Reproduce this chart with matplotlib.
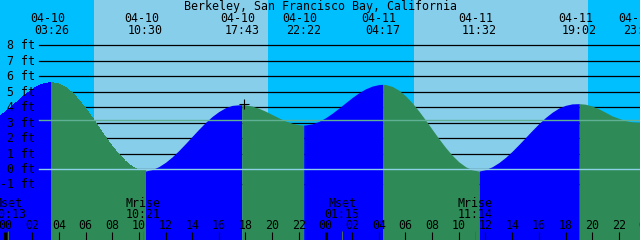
import matplotlib
matplotlib.use("Agg")
import matplotlib.pyplot as plt
import matplotlib.transforms as mtransforms
import numpy as np

# ---------------- data ----------------
title = "Berkeley, San Francisco Bay, California"

day_offsets = {"04-10": 0.0, "04-11": 24.0}

# tide extremes (date, time, height ft)
ext_dates = ["04-10", "04-10", "04-10", "04-10", "04-11", "04-11", "04-11", "04-11"]
ext_times = ["03:26", "10:30", "17:43", "22:22", "04:17", "11:32", "19:02", "23:36"]
ext_heights = [5.59, -0.13, 4.16, 2.85, 5.48, -0.13, 4.23, 3.02]
ext_is_high = [True, False, True, False, True, False, True, False]

# tide heights read every half hour, hours since 04-10 00:00
sample_hours = np.arange(-0.5, 48.01, 0.5)
sample_heights = [
    3.375, 3.686, 4.050, 4.438, 4.811, 5.140, 5.392, 5.547, 5.589, 5.500,
    5.274, 4.924, 4.466, 3.920, 3.319, 2.687, 2.057, 1.462, 0.929, 0.483,
    0.151, -0.060, -0.130, -0.036, 0.154, 0.433, 0.786, 1.197, 1.647, 2.114,
    2.576, 3.013, 3.402, 3.721, 3.968, 4.117, 4.155, 4.148, 4.071, 3.929,
    3.740, 3.524, 3.306, 3.110, 2.959, 2.869, 2.853, 2.924, 3.081, 3.314,
    3.608, 3.939, 4.287, 4.626, 4.934, 5.187, 5.366, 5.465, 5.468, 5.346,
    5.099, 4.738, 4.282, 3.751, 3.168, 2.563, 1.964, 1.397, 0.890, 0.466,
    0.149, -0.055, -0.130, -0.040, 0.145, 0.413, 0.752, 1.148, 1.585, 2.040,
    2.497, 2.934, 3.332, 3.672, 3.946, 4.120, 4.215, 4.229, 4.193, 4.074,
    3.892, 3.668, 3.434, 3.280, 3.130, 3.050, 3.020, 3.030,
]

# sun events
sun_dates = ["04-10", "04-10", "04-11", "04-11"]
sun_times = ["06:38", "19:41", "06:38", "19:41"]
sun_kind = ["rise", "set", "rise", "set"]

# moon events
moon_labels = ["Mset", "Mrise", "Mset", "Mrise"]
moon_dates = ["04-10", "04-10", "04-11", "04-11"]
moon_times = ["00:13", "10:21", "01:15", "11:14"]

ft_levels = [-1, 0, 1, 2, 3, 4, 5, 6, 7, 8]
datum_level = 0.0
msl_level = 3.15

now_date, now_time, now_height = "04-10", "17:54", 4.19

hour_ticks = list(range(0, 50, 2))

# ---------------- colours ----------------
NIGHT = "#00bfff"
DAY = "#87ceeb"
RISE = "#0000ff"
FALL = "#2e8b57"
DATUM_C = "#8ed0e6"
MSL_C = "#60b096"
FONT = "DejaVu Sans Mono"
FS = 8.4


def to_hours(d, t):
    hh, mm = t.split(":")
    return day_offsets[d] + int(hh) + int(mm) / 60.0


# ---------------- figure ----------------
W, H = 640, 240
fig = plt.figure(figsize=(6.4, 2.4), dpi=100)
fig.patch.set_facecolor(NIGHT)
ax = fig.add_axes([0, 0, 1, 1])
ax.set_facecolor(NIGHT)
for s in ax.spines.values():
    s.set_visible(False)
ax.set_xticks([])
ax.set_yticks([])

px_per_hour = 320.0 / 24.0
px_per_ft = 15.45
x_mid0 = 5.5      # pixel of 04-10 00:00
y_zero = 169.0    # pixel of 0 ft (from top)
ax.set_xlim(-x_mid0 / px_per_hour, (W - x_mid0) / px_per_hour)
ax.set_ylim(-(H - y_zero) / px_per_ft, y_zero / px_per_ft)


def ypx(p):
    return 1.0 - p / H


bx = mtransforms.blended_transform_factory(ax.transData, ax.transAxes)
by = mtransforms.blended_transform_factory(ax.transAxes, ax.transData)

# day bands
sun_h = [to_hours(d, t) for d, t in zip(sun_dates, sun_times)]
for i, k in enumerate(sun_kind):
    if k == "rise":
        end = sun_h[i + 1] if i + 1 < len(sun_h) else 60
        ax.axvspan(sun_h[i], end, color=DAY, lw=0, zorder=0)

# ft grid lines (behind water)
for v in ft_levels:
    ax.axhline(v, xmin=39 / W, xmax=1, color="black", lw=0.9, zorder=1)

# tide curve with extremes merged in
ext_h = [to_hours(d, t) for d, t in zip(ext_dates, ext_times)]
tt = np.concatenate([sample_hours, ext_h])
hh = np.concatenate([np.array(sample_heights), ext_heights])
order = np.argsort(tt)
tt, hh = tt[order], hh[order]

bounds = [tt[0]] + ext_h + [tt[-1]]
for i in range(len(bounds) - 1):
    a, b = bounds[i], bounds[i + 1]
    m = (tt >= a - 1e-9) & (tt <= b + 1e-9)
    if i < len(ext_h):
        rising = ext_is_high[i]
    else:
        rising = not ext_is_high[-1]
    ax.fill_between(tt[m], hh[m], -10, color=RISE if rising else FALL,
                    lw=0, antialiased=False, zorder=2)

# datum & msl lines
ax.axhline(datum_level, xmin=39 / W, xmax=1, color=DATUM_C, lw=1.0, zorder=3)
ax.axhline(msl_level, xmin=39 / W, xmax=1, color=MSL_C, lw=1.0, zorder=3)

# y labels
off_down = mtransforms.ScaledTranslation(0, -4 / 100, fig.dpi_scale_trans)
for v in ft_levels:
    ax.text(35 / W, v, f"{v} ft", transform=by + off_down, ha="right",
            va="baseline", fontsize=FS, family=FONT, zorder=5)

# title
fig.text(0.5, ypx(10.3), title, ha="center", va="baseline", fontsize=FS,
         family=FONT)

# extremes labels
off_left = mtransforms.ScaledTranslation(-4 / 100, 0, fig.dpi_scale_trans)
for d, t, x in zip(ext_dates, ext_times, ext_h):
    ax.text(x, ypx(22), d, transform=bx + off_left, ha="center",
            va="baseline", fontsize=FS, family=FONT, zorder=5)
    ax.text(x, ypx(34), t, transform=bx, ha="center", va="baseline",
            fontsize=FS, family=FONT, zorder=5)

# moon labels and marks
for lab, d, t in zip(moon_labels, moon_dates, moon_times):
    x = to_hours(d, t)
    ax.text(x, ypx(206.7), lab, transform=bx, ha="center", va="baseline",
            fontsize=FS, family=FONT, zorder=5)
    ax.text(x, ypx(217.5), t, transform=bx, ha="center", va="baseline",
            fontsize=FS, family=FONT, zorder=5)
    ax.vlines(x, ypx(240), ypx(231), transform=bx, color="#4a6a60",
              lw=0.8, zorder=4)

# hour ticks and labels
for h in hour_ticks:
    ax.text(h, ypx(229.3), "%02d" % (h % 24), transform=bx, ha="center",
            va="baseline", fontsize=FS, family=FONT, zorder=5)
    lw = 2.2 if h % 24 == 0 else 0.8
    ax.vlines(h, ypx(240), ypx(232), transform=bx, color="black", lw=lw,
              zorder=5)

# current time marker
ax.plot([to_hours(now_date, now_time)], [now_height], marker="+", ms=6.5,
        mew=0.8, color="black", zorder=6)

fig.savefig("out.png", dpi=100, facecolor=fig.get_facecolor())
